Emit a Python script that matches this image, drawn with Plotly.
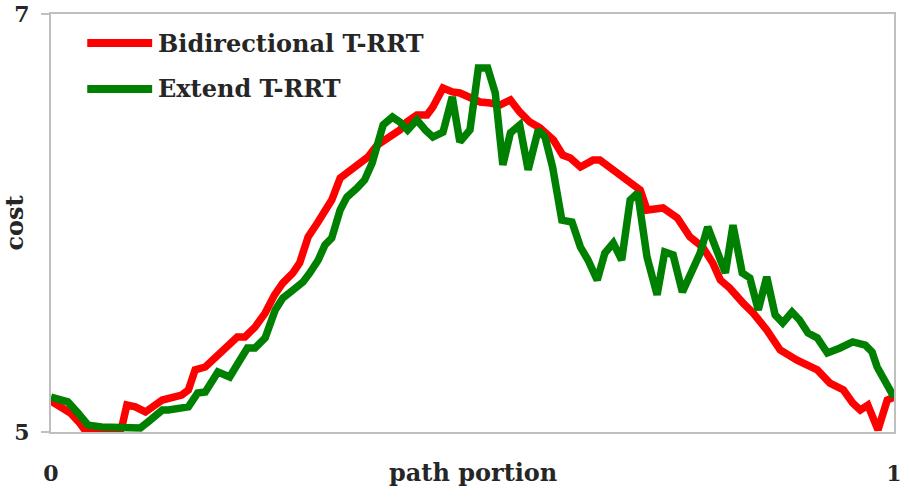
import plotly.graph_objects as go

# Bidirectional T-RRT (red)
red_x = [0.000, 0.023, 0.034, 0.040, 0.058, 0.082, 0.084, 0.090, 0.100, 0.112,
         0.132, 0.144, 0.155, 0.163, 0.171, 0.183, 0.195, 0.206, 0.221, 0.230,
         0.242, 0.254, 0.265, 0.275, 0.287, 0.295, 0.305, 0.316, 0.327, 0.333,
         0.343, 0.355, 0.367, 0.376, 0.387, 0.396, 0.406, 0.414, 0.422, 0.434,
         0.446, 0.453, 0.465, 0.476, 0.485, 0.497, 0.509, 0.521, 0.533, 0.545,
         0.556, 0.568, 0.580, 0.596, 0.607, 0.616, 0.628, 0.643, 0.651, 0.667,
         0.679, 0.687, 0.699, 0.707, 0.726, 0.743, 0.758, 0.773, 0.785, 0.794,
         0.805, 0.821, 0.833, 0.849, 0.865, 0.885, 0.909, 0.924, 0.940, 0.951,
         0.960, 0.969, 0.981, 0.992, 1.000]
red_y = [5.148, 5.091, 5.043, 5.010, 5.005, 5.005, 5.024, 5.129, 5.120, 5.096,
         5.153, 5.167, 5.177, 5.201, 5.297, 5.311, 5.354, 5.402, 5.455, 5.455,
         5.502, 5.569, 5.655, 5.713, 5.761, 5.809, 5.933, 6.000, 6.062, 6.110,
         6.215, 6.254, 6.287, 6.316, 6.373, 6.397, 6.421, 6.445, 6.483, 6.517,
         6.517, 6.555, 6.646, 6.627, 6.622, 6.603, 6.579, 6.574, 6.565, 6.589,
         6.531, 6.483, 6.455, 6.397, 6.325, 6.311, 6.268, 6.301, 6.301, 6.254,
         6.215, 6.191, 6.158, 6.062, 6.072, 6.024, 5.933, 5.885, 5.809, 5.727,
         5.689, 5.617, 5.569, 5.488, 5.392, 5.344, 5.297, 5.234, 5.201, 5.139,
         5.105, 5.129, 5.010, 5.153, 5.167]

# Extend T-RRT (green)
green_x = [0.000, 0.020, 0.032, 0.044, 0.060, 0.084, 0.096, 0.106, 0.115, 0.132,
           0.139, 0.151, 0.163, 0.174, 0.183, 0.198, 0.212, 0.222, 0.233, 0.242,
           0.254, 0.266, 0.275, 0.287, 0.299, 0.307, 0.317, 0.325, 0.333, 0.343,
           0.351, 0.363, 0.372, 0.381, 0.387, 0.394, 0.405, 0.414, 0.423, 0.434,
           0.444, 0.453, 0.465, 0.476, 0.485, 0.497, 0.507, 0.518, 0.527, 0.536,
           0.545, 0.556, 0.566, 0.578, 0.586, 0.595, 0.606, 0.618, 0.628, 0.637,
           0.648, 0.657, 0.667, 0.677, 0.687, 0.696, 0.707, 0.719, 0.728, 0.738,
           0.749, 0.760, 0.770, 0.779, 0.790, 0.800, 0.809, 0.820, 0.829, 0.839,
           0.849, 0.859, 0.868, 0.879, 0.888, 0.898, 0.909, 0.921, 0.936, 0.951,
           0.966, 0.974, 0.980, 0.989, 1.000]
green_y = [5.167, 5.144, 5.091, 5.033, 5.024, 5.024, 5.019, 5.019, 5.048, 5.105,
           5.105, 5.115, 5.120, 5.187, 5.191, 5.287, 5.263, 5.330, 5.402, 5.402,
           5.450, 5.584, 5.641, 5.679, 5.718, 5.761, 5.823, 5.895, 5.928, 6.062,
           6.124, 6.167, 6.206, 6.287, 6.383, 6.469, 6.507, 6.483, 6.445, 6.493,
           6.445, 6.411, 6.435, 6.603, 6.388, 6.445, 6.742, 6.742, 6.622, 6.278,
           6.431, 6.469, 6.254, 6.445, 6.411, 6.268, 6.014, 6.005, 5.885, 5.823,
           5.727, 5.856, 5.904, 5.823, 6.110, 6.144, 5.837, 5.656, 5.861, 5.847,
           5.670, 5.761, 5.856, 5.981, 5.871, 5.761, 5.990, 5.761, 5.737, 5.584,
           5.742, 5.560, 5.522, 5.574, 5.536, 5.474, 5.450, 5.378, 5.402, 5.431,
           5.416, 5.383, 5.311, 5.249, 5.167]

series_names = ["Bidirectional T-RRT", "Extend T-RRT"]
series_colors = ["#ff0000", "#008000"]

x_ticks = [0, 1]
x_tick_text = ["0", "1"]
y_ticks = [5, 7]
y_tick_text = ["5", "7"]

FONT = "DejaVu Serif"
FS = 24
FS_TICK = 22
TXT = "#262626"
AXC = "#bfbfbf"

fig = go.Figure()
for xs, ys, name, col in [(red_x, red_y, series_names[0], series_colors[0]),
                          (green_x, green_y, series_names[1], series_colors[1])]:
    fig.add_trace(go.Scatter(x=xs, y=ys, mode="lines", name=name,
                             line=dict(color=col, width=7.5, shape="linear"),
                             showlegend=False))

# manual legend (long line samples like the original)
leg_y = [0.9306, 0.8206]
for name, col, yy in zip(series_names, series_colors, leg_y):
    fig.add_shape(type="line", xref="paper", yref="paper",
                  x0=0.043, x1=0.120, y0=yy, y1=yy,
                  line=dict(color=col, width=8))
    fig.add_annotation(text="<b>%s</b>" % name, xref="paper", yref="paper",
                       x=0.124, y=yy, xanchor="left", yanchor="middle",
                       showarrow=False, font=dict(family=FONT, size=FS, color=TXT))

# x-axis title on the same line as the tick labels
fig.add_annotation(text="<b>path portion</b>", xref="paper", yref="paper",
                   x=0.5, y=-0.0957, xanchor="center", yanchor="middle",
                   showarrow=False, font=dict(family=FONT, size=FS, color=TXT))

fig.update_layout(
    width=909, height=498,
    margin=dict(l=51, r=15, t=14, b=66),
    paper_bgcolor="white", plot_bgcolor="white",
    font=dict(family=FONT, size=FS, color=TXT),
    xaxis=dict(range=[0, 1], tickvals=x_ticks, ticktext=["<b>%s</b>" % t for t in x_tick_text],
               showgrid=False, zeroline=False, showline=True, mirror=True,
               linecolor=AXC, linewidth=2, ticks="", ticklabelstandoff=21,
               automargin=False,
               tickfont=dict(family=FONT, size=FS_TICK, color=TXT)),
    yaxis=dict(range=[5, 7], tickvals=y_ticks, ticktext=["<b>%s</b>" % t for t in y_tick_text],
               showgrid=False, zeroline=False, showline=True, mirror=True,
               linecolor=AXC, linewidth=2, ticks="outside", ticklen=8,
               tickcolor=AXC, tickwidth=2, ticklabelstandoff=7,
               automargin=False,
               tickfont=dict(family=FONT, size=FS_TICK, color=TXT)),
    )
fig.update_yaxes(title=dict(text="<b>cost</b>", standoff=0,
                            font=dict(family=FONT, size=FS, color=TXT)))

fig.write_html("out.html")
